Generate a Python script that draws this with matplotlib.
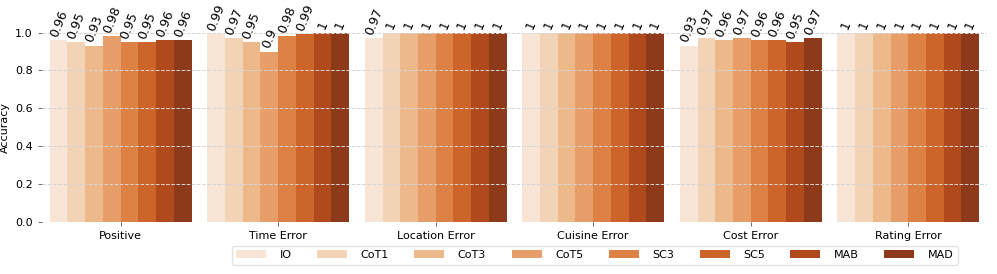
import matplotlib
matplotlib.use("Agg")
import matplotlib.pyplot as plt
import numpy as np

categories = ["Positive", "Time Error", "Location Error", "Cuisine Error", "Cost Error", "Rating Error"]
methods = ["IO", "CoT1", "CoT3", "CoT5", "SC3", "SC5", "MAB", "MAD"]
values = {
    "IO":   [0.96, 0.99, 0.97, 1, 0.93, 1],
    "CoT1": [0.95, 0.97, 1, 1, 0.97, 1],
    "CoT3": [0.93, 0.95, 1, 1, 0.96, 1],
    "CoT5": [0.98, 0.90, 1, 1, 0.97, 1],
    "SC3":  [0.95, 0.98, 1, 1, 0.96, 1],
    "SC5":  [0.95, 0.99, 1, 1, 0.96, 1],
    "MAB":  [0.96, 1, 1, 1, 0.95, 1],
    "MAD":  [0.96, 1, 1, 1, 0.97, 1],
}
colors = ["#f8e5d5", "#f2d3b5", "#edb98b", "#e89e68", "#de8145", "#cd6429", "#b0491c", "#8c3a19"]

fig = plt.figure(figsize=(9.97, 2.74), dpi=100)
ax = fig.add_axes([0.042, 0.191, 0.948, 0.69])

x = np.arange(len(categories))
w = 0.1125
for i, m in enumerate(methods):
    pos = x + (i - 3.5) * w
    bars = ax.bar(pos, values[m], width=w, color=colors[i], label=m, zorder=1)
    ax.bar_label(bars, labels=[f"{v:g}" for v in values[m]], rotation=68,
                 padding=1, fontsize=9)

ax.set_xlim(-0.5, 5.5)
ax.set_ylim(0, 1.0)
ax.set_yticks([0.0, 0.2, 0.4, 0.6, 0.8, 1.0])
ax.set_yticklabels(["0.0", "0.2", "0.4", "0.6", "0.8", "1.0"])
ax.set_xticks(x)
ax.set_xticklabels(categories)
ax.tick_params(axis="both", labelsize=8, length=3, color="#555555", width=0.6)
ax.set_ylabel("Accuracy", fontsize=8)
ax.grid(axis="y", linestyle="--", color="#d5d5d5", linewidth=0.7, zorder=3)
ax.set_axisbelow(False)
for s in ax.spines.values():
    s.set_visible(False)

leg = ax.legend(loc="upper center", bbox_to_anchor=(0.585, -0.127), ncol=8,
                fontsize=8, frameon=True, handlelength=2.7, columnspacing=2.3,
                handletextpad=1.2, borderaxespad=0)
leg.get_frame().set_edgecolor("#dddddd")

fig.savefig("out.png", dpi=100)
